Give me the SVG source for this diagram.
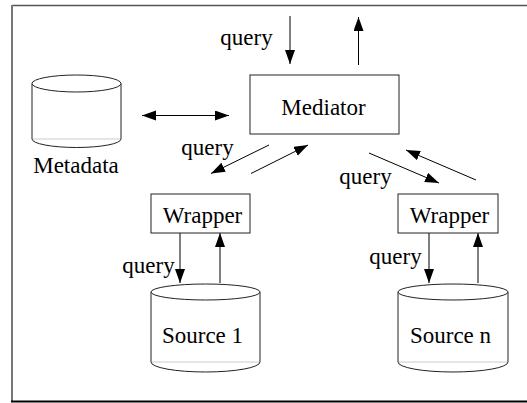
<svg xmlns="http://www.w3.org/2000/svg" width="527" height="403" viewBox="0 0 527 403">
  <style>
    .box { fill: #ffffff; stroke: #222222; stroke-width: 1; }
    .cyl { fill: #ffffff; stroke: #222222; stroke-width: 1; }
    .back { fill: none; stroke: #cccccc; stroke-width: 1.2; }
    .lbl { font-family: "Liberation Serif", "Times New Roman", serif; font-size: 23px; fill: #000000; text-anchor: middle; }
    .edge { fill: none; stroke: #000000; stroke-width: 1; marker-end: url(#head); }
  </style>
  <defs>
    <marker id="head" markerUnits="userSpaceOnUse" markerWidth="15" markerHeight="11" refX="14" refY="5" orient="auto-start-reverse">
      <path d="M0,0 L14,5 L0,10 z" fill="#000000"/>
    </marker>
  </defs>

  <rect width="527" height="403" fill="#ffffff"/>

  <!-- frame -->
  <g id="frame">
    <line x1="12" y1="5.5" x2="527" y2="5.5" stroke="#555555" stroke-width="1.5"/>
    <line x1="12" y1="5" x2="12" y2="402" stroke="#777777" stroke-width="2"/>
    <line x1="11" y1="401.5" x2="527" y2="401.5" stroke="#000000" stroke-width="2"/>
  </g>

  <!-- connectors -->
  <g id="connectors">
    <line class="edge" x1="290" y1="16" x2="290" y2="64"/>
    <line class="edge" x1="358.5" y1="65" x2="358.5" y2="17"/>
    <line class="edge" x1="142" y1="115.5" x2="229" y2="115.5" stroke="#66664d" style="marker-start: url(#head)"/>
    <line class="edge" x1="269" y1="145" x2="211" y2="173.5"/>
    <line class="edge" x1="251" y1="173.5" x2="308" y2="145"/>
    <line class="edge" x1="369" y1="153" x2="439" y2="183"/>
    <line class="edge" x1="476" y1="180" x2="406" y2="150"/>
    <line class="edge" x1="180" y1="233" x2="180" y2="283"/>
    <line class="edge" x1="220" y1="283" x2="220" y2="233"/>
    <line class="edge" x1="429" y1="233" x2="429" y2="283"/>
    <line class="edge" x1="478" y1="283" x2="478" y2="233"/>
    <text class="lbl" x="246.5" y="45">query</text>
    <text class="lbl" x="207.5" y="155">query</text>
    <text class="lbl" x="365.5" y="184">query</text>
    <text class="lbl" x="148.5" y="273">query</text>
    <text class="lbl" x="395.5" y="264">query</text>
  </g>

  <g id="metadata">
    <path class="cyl" d="M32,83.5 L32,139 A44.5,8.5 0 0 0 121,139 L121,83.5"/>
    <line class="back" x1="33" y1="139" x2="120" y2="139"/>
    <ellipse class="cyl" cx="76.5" cy="83.5" rx="44.5" ry="8.5"/>
    <text class="lbl" x="76" y="173">Metadata</text>
  </g>

  <g id="mediator">
    <rect class="box" x="250" y="75" width="149" height="59"/>
    <text class="lbl" x="323.5" y="115">Mediator</text>
  </g>

  <g id="wrapper1">
    <rect class="box" x="151" y="194" width="99" height="39"/>
    <text class="lbl" x="202.5" y="223">Wrapper</text>
  </g>

  <g id="wrapper-n">
    <rect class="box" x="398" y="194" width="100" height="39"/>
    <text class="lbl" x="449.5" y="223">Wrapper</text>
  </g>

  <g id="source1">
    <path class="cyl" d="M151,292 L151,362 A54.5,10 0 0 0 260,362 L260,292"/>
    <line class="back" x1="152" y1="362" x2="259" y2="362"/>
    <ellipse class="cyl" cx="205.5" cy="292" rx="54.5" ry="8"/>
    <text class="lbl" x="202.5" y="343">Source 1</text>
  </g>

  <g id="source-n">
    <path class="cyl" d="M398,292 L398,362 A55,10 0 0 0 508,362 L508,292"/>
    <line class="back" x1="399" y1="362" x2="507" y2="362"/>
    <ellipse class="cyl" cx="453" cy="292" rx="55" ry="8"/>
    <text class="lbl" x="450.5" y="343">Source n</text>
  </g>
</svg>
